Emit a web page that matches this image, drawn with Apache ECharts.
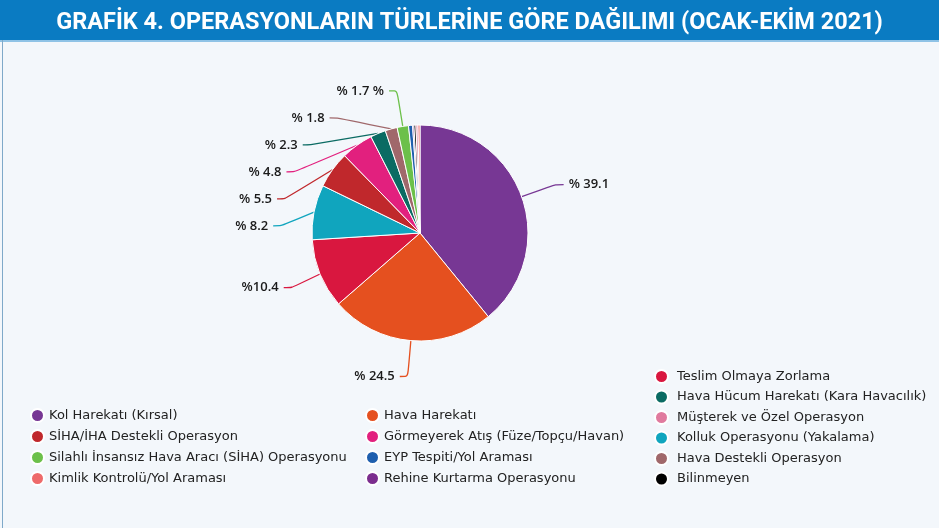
<!DOCTYPE html>
<html>
<head>
<meta charset="utf-8">
<script src="https://cdn.jsdelivr.net/npm/echarts@6/dist/echarts.min.js"></script>
<style>
  html, body { margin: 0; padding: 0; background: #f3f7fb; }
  #chart { width: 939px; height: 528px; }
</style>
</head>
<body>
<div id="chart"></div>
<script>
  // kategoriler (dilim sırası, saat yönünde)
  let categories = [
    'Kol Harekatı (Kırsal)',
    'Hava Harekatı',
    'Teslim Olmaya Zorlama',
    'Kolluk Operasyonu (Yakalama)',
    'SİHA/İHA Destekli Operasyon',
    'Görmeyerek Atış (Füze/Topçu/Havan)',
    'Hava Hücum Harekatı (Kara Havacılık)',
    'Hava Destekli Operasyon',
    'Silahlı İnsansız Hava Aracı (SİHA) Operasyonu',
    'EYP Tespiti/Yol Araması',
    'Rehine Kurtarma Operasyonu',
    'Bilinmeyen',
    'Müşterek ve Özel Operasyon',
    'Kimlik Kontrolü/Yol Araması'
  ];
  let values = [39.1, 24.5, 10.4, 8.2, 5.5, 4.8, 2.3, 1.8, 1.7, 0.6, 0.2, 0.3, 0.3, 0.3];
  let labelTexts = ['% 39.1', '% 24.5', '%10.4', '% 8.2', '% 5.5', '% 4.8', '% 2.3', '% 1.8', '% 1.7 %',
                    '', '', '', '', ''];
  let colors = ['#773794', '#e5501f', '#d9173f', '#10a5be', '#c0282c', '#e2207e', '#0b6b63',
                '#a0686b', '#6cc04a', '#1f5fae', '#7b2d8e', '#000000', '#e07a9e', '#ee6a6a'];

  // lejant sütunları
  let legendCol1 = ['Kol Harekatı (Kırsal)', 'SİHA/İHA Destekli Operasyon',
                    'Silahlı İnsansız Hava Aracı (SİHA) Operasyonu', 'Kimlik Kontrolü/Yol Araması'];
  let legendCol2 = ['Hava Harekatı', 'Görmeyerek Atış (Füze/Topçu/Havan)',
                    'EYP Tespiti/Yol Araması', 'Rehine Kurtarma Operasyonu'];
  let legendCol3 = ['Teslim Olmaya Zorlama', 'Hava Hücum Harekatı (Kara Havacılık)',
                    'Müşterek ve Özel Operasyon', 'Kolluk Operasyonu (Yakalama)',
                    'Hava Destekli Operasyon', 'Bilinmeyen'];

  let chart = echarts.init(document.getElementById('chart'));

  let pieData = categories.map((name, i) => ({
    name: name,
    value: values[i],
    itemStyle: { color: colors[i] },
    label: { show: labelTexts[i] !== '' },
    labelLine: { show: labelTexts[i] !== '' }
  }));

  let legendBase = {
    orient: 'vertical',
    icon: 'circle',
    itemWidth: 13,
    itemHeight: 13,
    itemGap: 6,
    textStyle: { fontFamily: '"DejaVu Sans", Verdana, sans-serif', fontSize: 13, color: '#222' }
  };

  let option = {
    backgroundColor: '#f3f7fb',
    graphic: [
      {
        type: 'rect',
        shape: { x: 0, y: 0, width: 939, height: 40 },
        style: { fill: '#0a7bc2' }
      },
      {
        type: 'rect',
        shape: { x: 0, y: 40, width: 939, height: 2 },
        style: { fill: '#8fc3e6' }
      },
      {
        type: 'rect',
        shape: { x: 2, y: 40, width: 1, height: 488 },
        style: { fill: '#7fa9c9' }
      }
    ],
    title: {
      text: 'GRAFİK 4. OPERASYONLARIN TÜRLERİNE GÖRE DAĞILIMI (OCAK-EKİM 2021)',
      left: 'center',
      top: 6,
      textStyle: {
        fontFamily: 'Roboto',
        fontWeight: 'bold',
        fontSize: 23.5,
        color: '#ffffff'
      }
    },
    legend: [
      Object.assign({}, legendBase, { data: legendCol1, left: 25, top: 403 }),
      Object.assign({}, legendBase, { data: legendCol2, left: 360, top: 403 }),
      Object.assign({}, legendBase, { data: legendCol3, left: 649, top: 364, itemWidth: 21, itemGap: 5.5 })
    ],
    series: [
      {
        type: 'pie',
        center: [420, 233],
        radius: 108,
        startAngle: 90,
        clockwise: true,
        avoidLabelOverlap: true,
        itemStyle: { borderColor: '#ffffff', borderWidth: 1 },
        label: {
          formatter: (p) => labelTexts[p.dataIndex],
          fontFamily: 'Open Sans',
          fontWeight: 600,
          fontSize: 13,
          lineHeight: 25,
          color: '#1a1a1a'
        },
        labelLine: { length: 36, length2: 8, smooth: 0.25, lineStyle: { width: 1.3 } },
        data: pieData
      }
    ]
  };

  chart.setOption(option);
</script>
</body>
</html>
